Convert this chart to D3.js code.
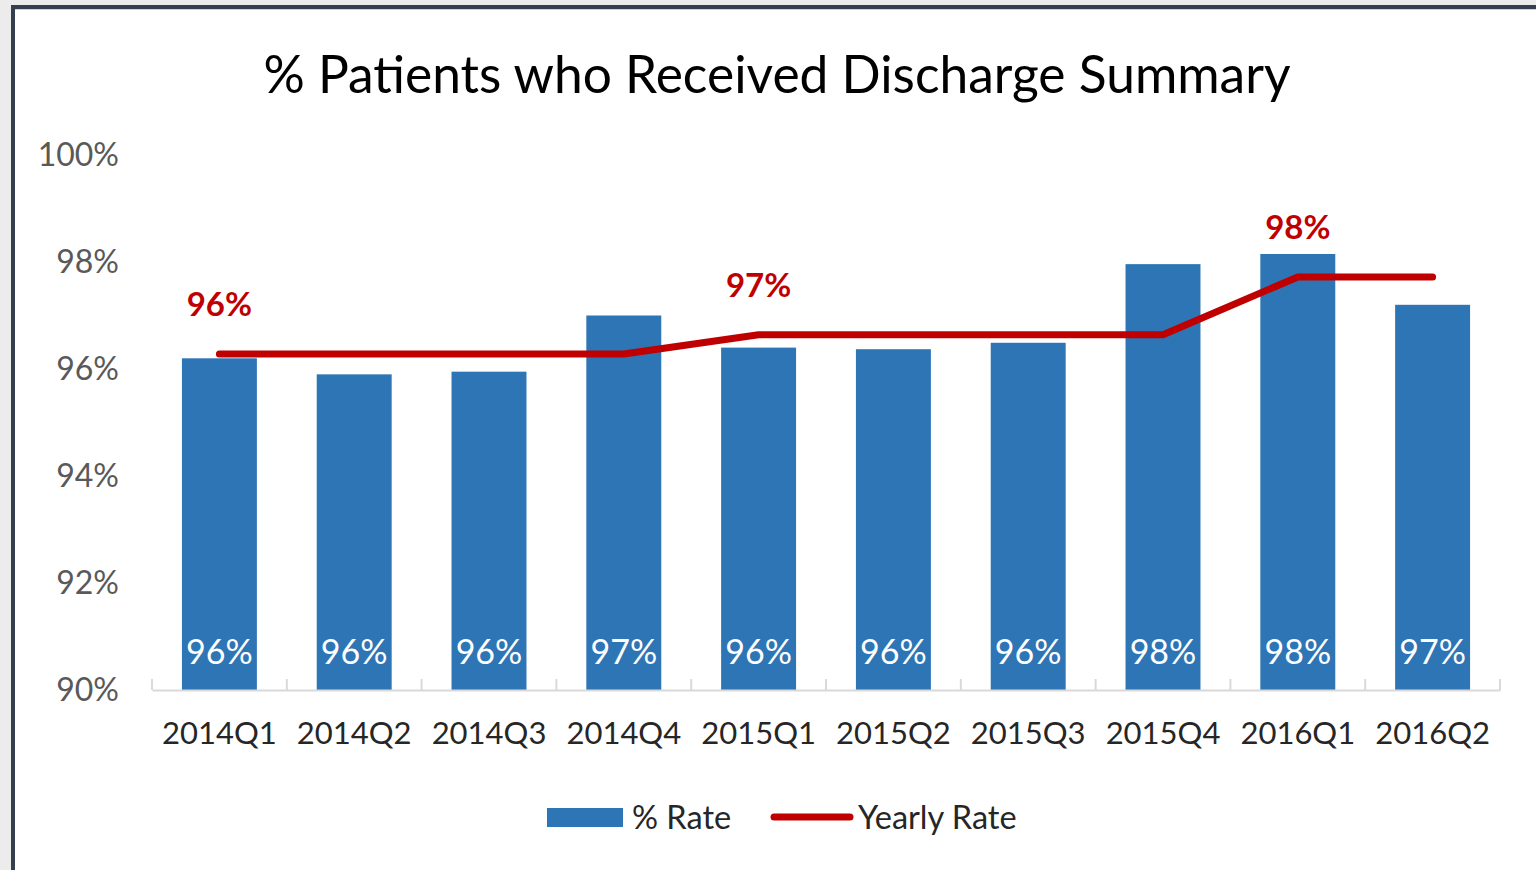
<!DOCTYPE html>
<html>
<head>
<meta charset="utf-8">
<script src="https://cdn.jsdelivr.net/npm/d3@7"></script>
<style>
  body { margin: 0; background: #ececec; }
  svg { display: block; }
  text { font-family: Lato, "Open Sans", sans-serif; }
</style>
</head>
<body>
<div id="chart"></div>
<script>
var quarters = ["2014Q1", "2014Q2", "2014Q3", "2014Q4", "2015Q1", "2015Q2", "2015Q3", "2015Q4", "2016Q1", "2016Q2"];
var rateValues = [96.2, 95.9, 95.95, 97.0, 96.4, 96.37, 96.49, 97.96, 98.15, 97.2];
var yearlyValues = [96.28, 96.28, 96.28, 96.28, 96.64, 96.64, 96.64, 96.64, 97.72, 97.72];
var yearlyLabelAt = ["2014Q1", "2015Q1", "2016Q1"];
var yTicks = [90, 92, 94, 96, 98, 100];

var svgWidth = 1536;
var svgHeight = 870;

var margin = { top: 155, right: 36, bottom: 180, left: 152 };
var width = svgWidth - margin.left - margin.right;
var height = svgHeight - margin.top - margin.bottom;

var svg = d3.select("#chart")
  .append("svg")
  .attr("width", svgWidth)
  .attr("height", svgHeight);

// frame: gray backdrop, dark border on top and left
svg.append("rect").attr("x", 0).attr("y", 0).attr("width", svgWidth).attr("height", svgHeight).attr("fill", "#ececec");
svg.append("rect").attr("x", 11).attr("y", 5).attr("width", svgWidth - 11).attr("height", svgHeight - 5).attr("fill", "#353f50");
svg.append("rect").attr("x", 15).attr("y", 9).attr("width", svgWidth - 15).attr("height", 2).attr("fill", "#c9d3e0");
svg.append("rect").attr("x", 15).attr("y", 10).attr("width", svgWidth - 15).attr("height", svgHeight - 10).attr("fill", "#ffffff");

svg.append("text")
  .attr("x", 777)
  .attr("y", 93)
  .attr("text-anchor", "middle")
  .style("font-size", "51.5px")
  .attr("fill", "#000")
  .text("% Patients who Received Discharge Summary");

var chartGroup = svg.append("g")
  .attr("transform", `translate(${margin.left}, ${margin.top})`);

var xScale = d3.scaleBand()
  .domain(quarters)
  .range([0, width])
  .paddingInner(0.444)
  .paddingOuter(0.222);

var yScale = d3.scaleLinear()
  .domain([90, 100])
  .range([height, 0]);

// y axis labels
var leftAxis = d3.axisLeft(yScale)
  .tickValues(yTicks)
  .tickSize(0)
  .tickPadding(33)
  .tickFormat(d => d + "%");

var yAxisG = chartGroup.append("g").call(leftAxis);
yAxisG.select(".domain").remove();
yAxisG.selectAll("text")
  .style("font-size", "32px")
  .style("font-family", "Lato, sans-serif")
  .attr("fill", "#595959");

// bars
chartGroup.selectAll(".bar")
  .data(quarters)
  .enter()
  .append("rect")
  .attr("class", "bar")
  .attr("x", d => xScale(d))
  .attr("width", xScale.bandwidth())
  .attr("y", (d, i) => yScale(rateValues[i]))
  .attr("height", (d, i) => height - yScale(rateValues[i]))
  .attr("fill", "#2e75b6");

// bar labels
chartGroup.selectAll(".barLabel")
  .data(quarters)
  .enter()
  .append("text")
  .attr("class", "barLabel")
  .attr("x", d => xScale(d) + xScale.bandwidth() / 2)
  .attr("y", height - 26)
  .attr("text-anchor", "middle")
  .style("font-size", "34px")
  .attr("fill", "#ffffff")
  .text((d, i) => Math.round(rateValues[i]) + "%");

// x axis
var step = xScale.step();
var bottomAxis = d3.axisBottom(xScale).tickSize(0).tickPadding(32);
var xAxisG = chartGroup.append("g")
  .attr("transform", `translate(0, ${height})`)
  .call(bottomAxis);
xAxisG.select(".domain").attr("stroke", "#d9d9d9").attr("stroke-width", 2);
xAxisG.selectAll("text")
  .style("font-size", "31px")
  .style("font-family", "Lato, sans-serif")
  .attr("fill", "#262626");

chartGroup.selectAll(".tickMark")
  .data(d3.range(quarters.length + 1))
  .enter()
  .append("line")
  .attr("class", "tickMark")
  .attr("x1", d => d * step)
  .attr("x2", d => d * step)
  .attr("y1", height - 11)
  .attr("y2", height)
  .attr("stroke", "#d9d9d9")
  .attr("stroke-width", 2);

// yearly line
var line = d3.line()
  .x((d, i) => xScale(quarters[i]) + xScale.bandwidth() / 2)
  .y(d => yScale(d));

chartGroup.append("path")
  .datum(yearlyValues)
  .attr("d", line)
  .attr("fill", "none")
  .attr("stroke", "#c00000")
  .attr("stroke-width", 7)
  .attr("stroke-linecap", "round")
  .attr("stroke-linejoin", "round");

chartGroup.selectAll(".yearLabel")
  .data(yearlyLabelAt)
  .enter()
  .append("text")
  .attr("class", "yearLabel")
  .attr("x", d => xScale(d) + xScale.bandwidth() / 2)
  .attr("y", d => yScale(yearlyValues[quarters.indexOf(d)]) - 38)
  .attr("text-anchor", "middle")
  .style("font-size", "33px")
  .style("font-weight", "bold")
  .attr("fill", "#c00000")
  .text(d => Math.round(yearlyValues[quarters.indexOf(d)]) + "%");

// legend
var legend = svg.append("g");
legend.append("rect")
  .attr("x", 547).attr("y", 808).attr("width", 76).attr("height", 19)
  .attr("fill", "#2e75b6");
legend.append("text")
  .attr("x", 632).attr("y", 829)
  .style("font-size", "32.5px")
  .attr("fill", "#262626")
  .text("% Rate");
legend.append("line")
  .attr("x1", 774).attr("x2", 850).attr("y1", 817).attr("y2", 817)
  .attr("stroke", "#c00000").attr("stroke-width", 7).attr("stroke-linecap", "round");
legend.append("text")
  .attr("x", 858).attr("y", 829)
  .style("font-size", "32.5px")
  .attr("fill", "#262626")
  .text("Yearly Rate");
</script>
</body>
</html>
